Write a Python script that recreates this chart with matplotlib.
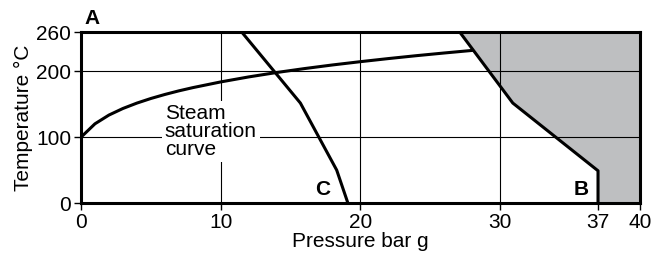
import matplotlib.pyplot as plt
import numpy as np

plt.rcParams['font.family'] = ['Liberation Sans', 'DejaVu Sans']

# steam saturation curve (bar g, degC)
sat_p = [0, 1, 2, 3, 4, 5, 6, 7, 8, 10, 12, 14, 16, 18, 20, 22, 24, 26, 28]
sat_t = [100, 120.4, 133.7, 143.7, 151.9, 158.9, 165.0, 170.5, 175.4, 184.1,
         191.7, 198.4, 204.4, 209.9, 214.9, 219.6, 224.0, 228.1, 232]

# line C
c_p = [11.5, 15.7, 18.3, 19.1]
c_t = [260, 152, 50, 0]

# boundary of shaded region (B)
b_p = [27.1, 30.9, 37, 37]
b_t = [260, 152, 49, 0]

xticks = [0, 10, 20, 30, 37, 40]
yticks = [0, 100, 200, 260]

fig = plt.figure(figsize=(6.53, 2.56), dpi=100)
ax = fig.add_axes([0.124, 0.207, 0.856, 0.668])

ax.fill_betweenx(b_t, b_p, 40, color='#bebfc1', lw=0)
for v in [10, 20, 30]:
    ax.axvline(v, color='black', lw=0.8, zorder=1)
for v in [100, 200]:
    ax.axhline(v, color='black', lw=0.8, zorder=1)

ax.plot(sat_p, sat_t, color='black', lw=2.2, zorder=3)
ax.plot(c_p, c_t, color='black', lw=2.2, zorder=3)
ax.plot(b_p, b_t, color='black', lw=2.2, zorder=3)

ax.text(6.0, 109, 'Steam\nsaturation\ncurve', fontsize=15, linespacing=0.95,
        va='center', ha='left', zorder=4,
        bbox=dict(facecolor='white', edgecolor='none', pad=2))

ax.text(0.8, 281, 'A', fontsize=15, fontweight='bold', ha='center', va='center', clip_on=False)
ax.text(35.8, 20, 'B', fontsize=15, fontweight='bold', ha='center', va='center')
ax.text(17.3, 21, 'C', fontsize=15, fontweight='bold', ha='center', va='center')

ax.set_xlim(0, 40)
ax.set_ylim(0, 260)
ax.set_xticks(xticks)
ax.set_yticks(yticks)
ax.tick_params(labelsize=15, length=5, width=1, pad=2)
for s in ax.spines.values():
    s.set_linewidth(2.2)
ax.set_xlabel('Pressure bar g', fontsize=15, labelpad=0)
ax.set_ylabel('Temperature °C', fontsize=15, labelpad=2)

fig.savefig('out.png', dpi=100)
